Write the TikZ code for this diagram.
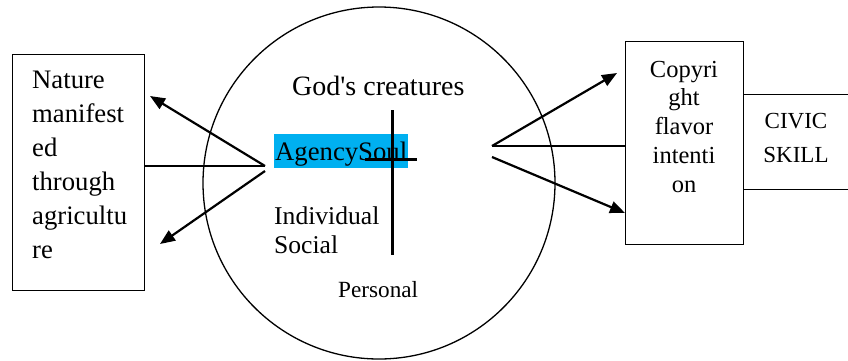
\documentclass[tikz,border=0pt]{standalone}
\usepackage{fontspec}
\setmainfont{Liberation Serif}[Ligatures=TeXOff]
\usetikzlibrary{arrows.meta}
\definecolor{hl}{HTML}{00B0F0}
\begin{document}
\begin{tikzpicture}[x=1pt,y=-1pt,
  box/.style={draw,line width=1.3pt,inner sep=0pt,anchor=north west},
  arr/.style={line width=2.2pt,-{Triangle[length=15pt,width=12pt]}},
  conn/.style={line width=2.2pt},
  crossline/.style={line width=3pt},
  txt/.style={inner sep=0pt,anchor=base west},
]
\useasboundingbox (0,0) rectangle (848,360);
% boxes
\node[box,minimum width=132pt,minimum height=236pt] (L) at (12,54) {};
\node[box,minimum width=118pt,minimum height=203pt] (R) at (625,41) {};
\node[box,minimum width=130pt,minimum height=95pt] (S) at (743,94) {};
% circle
\node[draw,circle,line width=1.3pt,minimum size=352pt,inner sep=0pt] (C) at (379,183) {};
% highlight
\node[fill=hl,inner sep=0pt,anchor=north west,minimum width=134pt,minimum height=34pt] (H) at (274,134) {};
% texts (base anchor = baseline of the last line)
\node[txt,align=left,font=\fontsize{26.7}{34}\selectfont] (Lt) at (32,258) {Nature\\manifest\\ed\\through\\agricultu\\re};
\node[txt,font=\fontsize{28}{34}\selectfont] (G) at (292,95) {God's creatures};
\node[txt,font=\fontsize{26.7}{34}\selectfont] (A) at (275,160) {AgencySoul};
\node[txt,align=left,font=\fontsize{25.6}{29}\selectfont] (I) at (274,253) {Individual\\Social};
\node[txt,font=\fontsize{23.2}{30}\selectfont] (P) at (338,297) {Personal};
\node[inner sep=0pt,anchor=base,align=center,font=\fontsize{24.5}{28.75}\selectfont] (Rt) at (684,192) {Copyri\\ght\\flavor\\intenti\\on};
\node[inner sep=0pt,anchor=base,align=center,font=\fontsize{23}{34}\selectfont] (St) at (796,162) {CIVIC\\SKILL};
% cross
\coordinate (vt) at (392,110);
\coordinate (vb) at (392,255);
\coordinate (hl1) at (365,159);
\coordinate (hr) at (417,159);
\draw[crossline] (vt) -- (vb);
\draw[crossline] (hl1) -- (hr);
% left connectors
\coordinate (lo1) at (265,166);
\coordinate (lo2) at (265,171);
\coordinate (la1) at (150,96);
\coordinate (la2) at (160,244);
\draw[arr] (lo1) -- (la1);
\draw[conn] (lo1) -- (L.east |- lo1);
\draw[arr] (lo2) -- (la2);
% right connectors
\coordinate (ro1) at (492,146);
\coordinate (ro2) at (492,157);
\coordinate (ra1) at (617,73);
\coordinate (ra2) at (625,213);
\draw[arr] (ro1) -- (ra1);
\draw[conn] (ro1) -- (R.west |- ro1);
\draw[arr] (ro2) -- (ra2);
\end{tikzpicture}
\end{document}
